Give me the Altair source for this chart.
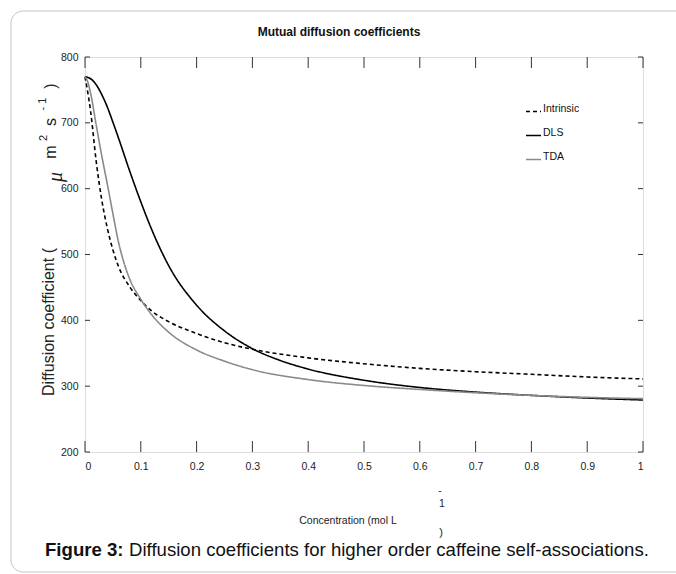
import altair as alt
import pandas as pd

# ---------------- data ----------------
series_names = ["Intrinsic", "DLS", "TDA"]

conc_intrinsic = [0, 0.005, 0.01, 0.02, 0.03, 0.04, 0.05, 0.06, 0.08, 0.1, 0.12,
                  0.15, 0.2, 0.25, 0.3, 0.4, 0.5, 0.6, 0.7, 0.8, 0.9, 1.0]
d_intrinsic = [770, 746, 718, 642, 583, 540, 507, 482, 451, 430, 414,
               398, 380, 366, 356, 343, 334, 327, 322, 318, 314, 311]

conc_dls = [0, 0.01, 0.02, 0.03, 0.04, 0.05, 0.06, 0.08, 0.1, 0.12, 0.15, 0.2,
            0.25, 0.3, 0.35, 0.4, 0.5, 0.6, 0.7, 0.8, 0.9, 1.0]
d_dls = [770, 767, 758, 743, 724, 701, 677, 627, 580, 537, 483, 423,
         384, 357, 339, 326, 309, 298, 291, 286, 282, 279]

conc_tda = [0, 0.005, 0.01, 0.02, 0.03, 0.04, 0.05, 0.06, 0.07, 0.08, 0.1,
            0.12, 0.15, 0.2, 0.25, 0.3, 0.4, 0.5, 0.6, 0.7, 0.8, 0.9, 1.0]
d_tda = [770, 762, 745, 697, 650, 607, 562, 519, 487, 463, 432,
         408, 382, 355, 338, 325, 310, 301, 295, 290, 286, 283, 281]

x_ticks = [0, 0.1, 0.2, 0.3, 0.4, 0.5, 0.6, 0.7, 0.8, 0.9, 1.0]
y_ticks = [200, 300, 400, 500, 600, 700, 800]

title_text = "Mutual diffusion coefficients"
x_title_main = "Concentration (mol L"
x_title_sup = ["-", "1", ")"]
y_title_parts = ["Diffusion coefficient (", "\u03bc", "m", "2", "s", "- 1", ")"]
caption_bold = "Figure 3:"
caption_rest = "Diffusion coefficients for higher order caffeine self-associations."

# ---------------- build table ----------------
rows = []
for name, xs, ys in [("Intrinsic", conc_intrinsic, d_intrinsic),
                     ("DLS", conc_dls, d_dls),
                     ("TDA", conc_tda, d_tda)]:
    for xv, yv in zip(xs, ys):
        rows.append({"series": name, "conc": xv, "D": yv})
df = pd.DataFrame(rows)

W, H = 558, 395
SANS = "Liberation Sans, Arial, sans-serif"

x_scale = alt.Scale(domain=[0, 1], nice=False)
y_scale = alt.Scale(domain=[200, 800], nice=False)

x_axis = alt.Axis(values=x_ticks, format="~g", title=None, grid=False,
                  domain=False, ticks=True, tickSize=0, labelPadding=9,
                  labelFont=SANS, labelFontSize=10.5, labelColor="#222")
y_axis = alt.Axis(values=y_ticks, title=None, grid=False, domain=False,
                  ticks=True, tickSize=0, labelPadding=7,
                  labelFont=SANS, labelFontSize=10.5, labelColor="#222")

legend_kw = dict(title=None, orient="none", legendX=440, legendY=46,
                 symbolType="stroke", symbolSize=225, symbolStrokeWidth=1.6,
                 labelFont=SANS, labelFontSize=10.5, labelColor="#111",
                 rowPadding=12, labelOffset=1, padding=0, labelBaseline="alphabetic")

lines = alt.Chart(df).mark_line(strokeWidth=1.6, interpolate="monotone").encode(
    x=alt.X("conc:Q", scale=x_scale, axis=x_axis),
    y=alt.Y("D:Q", scale=y_scale, axis=y_axis),
    color=alt.Color("series:N",
                    scale=alt.Scale(domain=series_names,
                                    range=["#000000", "#000000", "#8a8a8a"]),
                    legend=alt.Legend(**legend_kw)),
    strokeDash=alt.StrokeDash("series:N",
                              scale=alt.Scale(domain=series_names,
                                              range=[[4, 3], [1, 0], [1, 0]]),
                              legend=alt.Legend(**legend_kw)),
)

xt = pd.DataFrame({"t": x_ticks})
yt = pd.DataFrame({"t": y_ticks})
tick_color = "#333333"
bx = alt.X("t:Q", scale=x_scale, axis=x_axis)
by = alt.Y("t:Q", scale=y_scale, axis=y_axis)
ticks_bottom = alt.Chart(xt).mark_rule(color=tick_color, strokeWidth=1).encode(
    x=bx, y=alt.value(H), y2=alt.value(H - 11))
ticks_top = alt.Chart(xt).mark_rule(color=tick_color, strokeWidth=1).encode(
    x=bx, y=alt.value(0), y2=alt.value(11))
ticks_left = alt.Chart(yt).mark_rule(color=tick_color, strokeWidth=1).encode(
    y=by, x=alt.value(0), x2=alt.value(5))
ticks_right = alt.Chart(yt).mark_rule(color=tick_color, strokeWidth=1).encode(
    y=by, x=alt.value(W - 5), x2=alt.value(W))

one = pd.DataFrame({"a": [0]})

border = alt.Chart(one).mark_rect(fill="white", fillOpacity=0, stroke="#c4c4c4",
                                  strokeWidth=1, cornerRadius=12).encode(
    x=alt.value(-74), x2=alt.value(610), y=alt.value(-46), y2=alt.value(515))


def txt(text, x, y, **kw):
    return alt.Chart(pd.DataFrame({"s": [text]})).mark_text(**kw).encode(
        text="s:N", x=alt.value(x), y=alt.value(y))


title = txt(title_text, 254, -25, font=SANS, fontSize=12, fontWeight="bold",
            color="#111", align="center", baseline="middle")

xtitle = [
    txt(x_title_main, 263, 464, font=SANS, fontSize=10.5, color="#222",
        align="center", baseline="middle"),
    txt(x_title_sup[0], 355, 434, font=SANS, fontSize=10, color="#222",
        align="center", baseline="middle"),
    txt(x_title_sup[1], 357, 447, font=SANS, fontSize=10.5, color="#222",
        align="center", baseline="middle"),
    txt(x_title_sup[2], 356, 476, font=SANS, fontSize=11, color="#222",
        align="center", baseline="middle"),
]

yt_pos = [(-36, 265, 16, SANS, "normal"),
          (-29, 120, 20, "Liberation Serif, serif", "italic"),
          (-34, 95, 16, SANS, "normal"),
          (-41, 81, 11, SANS, "normal"),
          (-34, 65, 16, SANS, "normal"),
          (-42, 47, 11, SANS, "normal"),
          (-34, 29, 16, SANS, "normal")]
ytitle = [txt(t, x, y, font=f, fontSize=fs, fontStyle=st, color="#222",
              angle=270, align="center", baseline="middle")
          for t, (x, y, fs, f, st) in zip(y_title_parts, yt_pos)]

cap1 = txt(caption_bold, -40, 499, font=SANS, fontSize=18.6, fontWeight="bold",
           color="#111", align="left", baseline="alphabetic")
cap2 = txt(caption_rest, 44, 499, font=SANS, fontSize=18.6, color="#111",
           align="left", baseline="alphabetic")

chart = alt.layer(
    border, lines, ticks_bottom, ticks_top, ticks_left, ticks_right,
    title, *xtitle, *ytitle, cap1, cap2
).properties(
    width=W, height=H,
    padding={"left": 85, "top": 57, "right": 33, "bottom": 122},
    autosize=alt.AutoSizeParams(type="none"),
).configure_view(stroke="#6e6e6e", strokeWidth=1.3).configure(background="white")

chart.save("out.html", embed_options={"renderer": "svg", "actions": False})
